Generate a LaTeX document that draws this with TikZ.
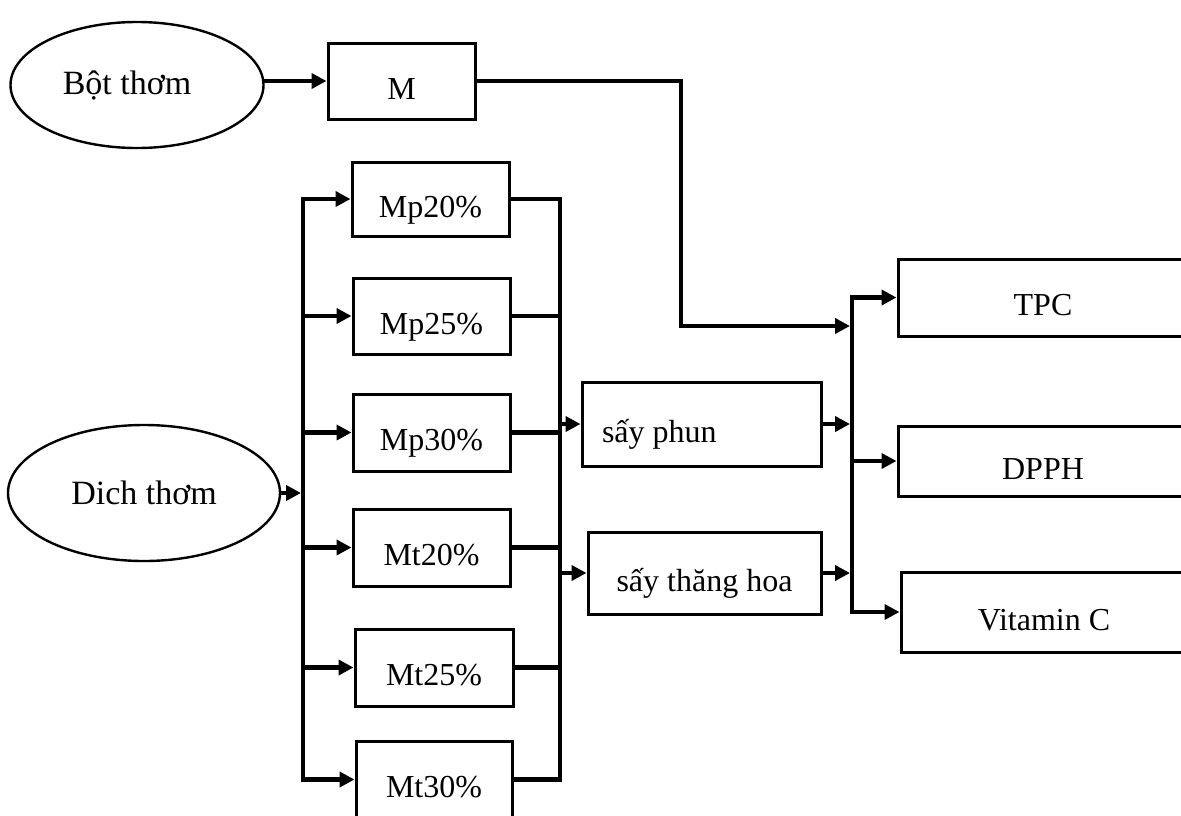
\documentclass[tikz,border=0pt]{standalone}
\usepackage{fontspec}
\setmainfont{Liberation Serif}
\usetikzlibrary{shapes.geometric,arrows.meta}
\begin{document}
\begin{tikzpicture}[x=1pt,y=-1pt,
				every node/.style={draw,line width=3pt,font=\fontsize{32}{38}\selectfont},
				src/.style={ellipse,line width=2.4pt,inner sep=0pt,font=\fontsize{34}{40}\selectfont},
				box/.style={rectangle,minimum height=76pt,text height=36pt,text depth=0pt,inner sep=0pt},
				conn/.style={line width=4.5pt,line cap=rect},
				arr/.style={conn,-{Triangle[length=15pt,width=15pt]}},
				arrs/.style={conn,{Triangle[length=15pt,width=15pt]}-{Triangle[length=15pt,width=15pt]}}]
\useasboundingbox (0,0) rectangle (1181,815);
\node[src,minimum width=253pt,minimum height=126pt] (bot) at (137,85) {Bột thơm\hspace*{20pt}};
\node[src,minimum width=272pt,minimum height=136pt] (dich) at (144,493) {Dich thơm};
\node[box,minimum width=147pt] (M) at (401.5,81) {M};
\node[box,minimum width=157pt,minimum height=74pt] (Mp20) at (430.5,199) {Mp20\%};
\node[box,minimum width=157pt] (Mp25) at (431.5,316) {Mp25\%};
\node[box,minimum width=157pt,minimum height=77pt] (Mp30) at (431.5,432.5) {Mp30\%};
\node[box,minimum width=157pt,minimum height=77pt] (Mt20) at (431.5,547.5) {Mt20\%};
\node[box,minimum width=158pt,minimum height=77pt] (Mt25) at (434,667.5) {Mt25\%};
\node[box,minimum width=156pt,minimum height=77pt] (Mt30) at (434,779.5) {Mt30\%};
\node[box,minimum width=239pt,minimum height=84pt] (phun) at (701.5,424) {\makebox[199pt][l]{sấy phun}};
\node[box,minimum width=233pt,minimum height=82pt] (thang) at (704.5,573) {sấy thăng hoa};
\node[box,minimum width=290pt,minimum height=77pt] (TPC) at (1043,297.5) {TPC};
\node[box,minimum width=290pt,minimum height=70pt] (DPPH) at (1043,461) {DPPH};
\node[box,minimum width=286pt,minimum height=80pt] (VitC) at (1044,612) {Vitamin C};
\coordinate (lx) at (303,0);
\coordinate (mx) at (560,0);
\coordinate (rx) at (852,0);
\coordinate (mturn) at (681,0);
\coordinate (mjoin) at (852,326);
\draw[arr] (bot.east |- M.west) -- (M.west);
\draw[arr,shorten >=2pt] (M.east) -| (mturn |- mjoin) -- (mjoin);
\draw[arr,shorten >=2pt] (dich.east) -- (dich.east -| lx);
\draw[conn] (lx |- Mp20.west) -- (lx |- Mt30.west);
\foreach \n in {Mp20,Mp25,Mp30,Mt20,Mt25,Mt30}
	\draw[arr] (lx |- \n.west) -- (\n.west);
\draw[conn] (Mp20.east) -| (mx |- Mt30.east) -- (Mt30.east);
\foreach \n in {Mp25,Mp30,Mt20,Mt25}
	\draw[conn] (\n.east) -- (\n.east -| mx);
\draw[arr] (mx |- phun.west) -- (phun.west);
\draw[arr] (mx |- thang.west) -- (thang.west);
\draw[arr,shorten >=2pt] (phun.east) -- (phun.east -| rx);
\draw[arr,shorten >=2pt] (thang.east) -- (thang.east -| rx);
\draw[arrs] (TPC.west) -| (rx |- VitC.west) -- (VitC.west);
\draw[arr] (rx |- DPPH.west) -- (DPPH.west);
\end{tikzpicture}
\end{document}
